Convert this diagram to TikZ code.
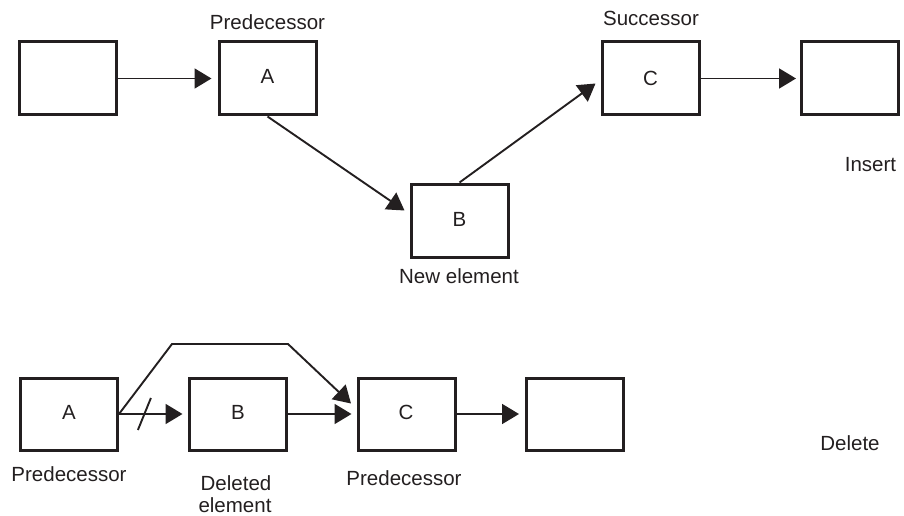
\documentclass[tikz,border=0pt]{standalone}
\usepackage{fontspec}
\setmainfont{Liberation Sans}
\usetikzlibrary{arrows.meta}
\definecolor{ink}{HTML}{231F20}
\begin{document}
\begin{tikzpicture}[x=1pt,y=-1pt,
  cell/.style={draw=ink, line width=3pt, minimum width=97pt, minimum height=73pt,
               inner sep=0pt, font=\fontsize{20.5}{24}\selectfont, text=ink},
  lbl/.style={anchor=base, inner sep=0pt, font=\fontsize{20.5}{24}\selectfont, text=ink},
  link/.style={draw=ink, line width=1.9pt, -{Triangle[length=17pt,width=20pt]}},
  plain/.style={draw=ink, line width=1.9pt}]
\useasboundingbox (0,0) rectangle (904,516);

% ---- insertion ----
\node[cell] (i0) at (68.3,78.5) {};
\node[cell] (iA) at (267.5,78.5) {};
\node[cell] (iB) at (459.5,220.5) {};
\node[cell] (iC) at (650.5,78.5) {};
\node[cell] (iD) at (850,78.5) {};

\node[lbl] (tA) at (267.5,84) {A};
\node[lbl] (tB) at (459.5,226.7) {B};
\node[lbl] (tC) at (650.5,85.5) {C};

\node[lbl] (pred1) at (267.5,30) {Predecessor};
\node[lbl] (succ) at (651,26) {Successor};
\node[lbl] (newel) at (459,283) {New element};
\node[lbl] (ins) at (870.5,171.7) {Insert};

\draw[link] (i0.east) -- ([xshift=-6pt]iA.west);
\draw[link] (iA.south) -- ([xshift=-5pt,yshift=10pt]iB.west);
\draw[link] (iB.north) -- ([xshift=-5pt,yshift=-5pt]iC.west);
\draw[link] (iC.east) -- ([xshift=-4pt]iD.west);

% ---- deletion ----
\node[cell, minimum height=72pt] (dA) at (69,414) {};
\node[cell, minimum height=72pt] (dB) at (237.5,414) {};
\node[cell, minimum height=72pt] (dC) at (406.5,414) {};
\node[cell, minimum height=72pt] (dD) at (575,414) {};

\node[lbl] (uA) at (69,419.5) {A};
\node[lbl] (uB) at (238,419.5) {B};
\node[lbl] (uC) at (406,419.5) {C};

\node[lbl] (pred2) at (69,481.7) {Predecessor};
\node[lbl] (del1) at (236,490.7) {Deleted};
\node[lbl] (del2) at (235,512.3) {element};
\node[lbl] (pred3) at (404,485) {Predecessor};
\node[lbl] (dele) at (850,450.7) {Delete};

\draw[link] (dA.east) -- coordinate[pos=0.4] (cut) ([xshift=-5pt]dB.west);
\draw[plain] (cut) +(-6.5,16) -- +(6.5,-16);
\draw[link] (dB.east) -- ([xshift=-5pt]dC.west);
\draw[link] (dC.east) -- ([xshift=-6pt]dD.west);

\coordinate (by1) at (172,344);
\coordinate (by2) at (288,344);
\draw[link] (dA.east) -- (by1) -- (by2) -- ([xshift=-5.5pt,yshift=10.5pt]dC.west);
\end{tikzpicture}
\end{document}
